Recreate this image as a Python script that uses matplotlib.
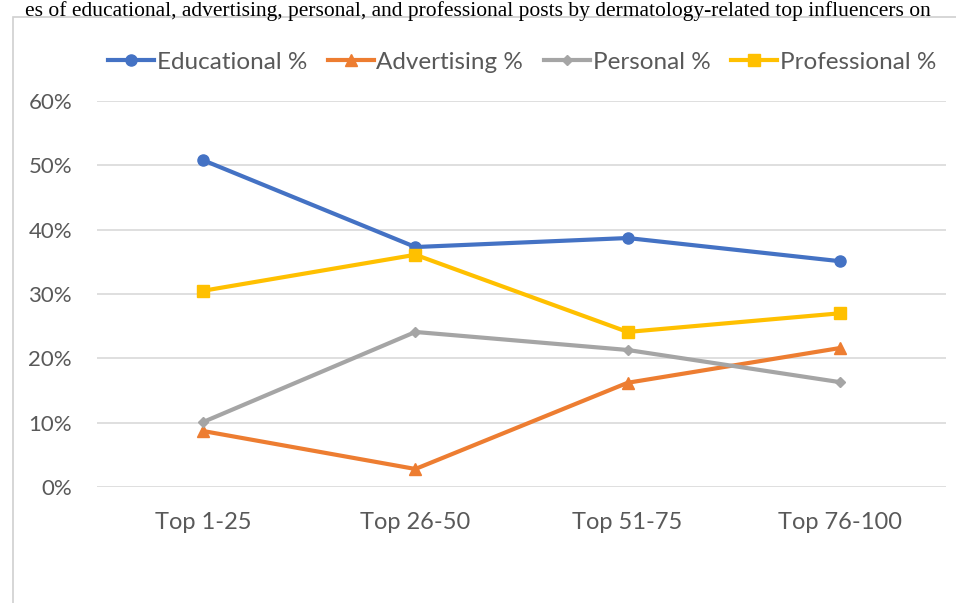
import numpy as np
import matplotlib.pyplot as plt
from matplotlib.patches import Rectangle
from matplotlib.ticker import FuncFormatter

# values (percent)
groups = ["Top 1-25", "Top 26-50", "Top 51-75", "Top 76-100"]
educational = [50.8, 37.3, 38.7, 35.1]
advertising = [8.7, 2.8, 16.2, 21.6]
personal = [10.1, 24.1, 21.3, 16.3]
professional = [30.5, 36.1, 24.1, 27.0]

title = "es of educational, advertising, personal, and professional posts by dermatology-related top influencers on"

W, H = 956, 603
fig = plt.figure(figsize=(W / 100, H / 100), dpi=100)
ax = fig.add_axes([97 / W, 1 - 487 / H, (946 - 97) / W, (487 - 101) / H])

# outer chart frame (cut off at the right and bottom)
fig.patches.append(Rectangle((13 / W, -0.1), 1.2, 1 - 17 / H + 0.1, transform=fig.transFigure,
                             fill=False, edgecolor="#d0d0d0", linewidth=1.2))

fig.text(0.5, 1 - 1 / H, title, family="Liberation Serif", fontsize=15.5, ha="center", va="top", color="black")

x = np.arange(len(groups))
ax.plot(x, educational, color="#4472C4", lw=3, marker="o", ms=8, label="Educational %")
ax.plot(x, advertising, color="#ED7D31", lw=3, marker="^", ms=9, label="Advertising %")
ax.plot(x, personal, color="#A5A5A5", lw=3, marker="D", ms=5.5, label="Personal %")
ax.plot(x, professional, color="#FFC000", lw=3, marker="s", ms=8, label="Professional %")

ax.set_xlim(-0.5, len(groups) - 0.5)
ax.set_ylim(0, 60)
ax.set_yticks(np.arange(0, 61, 10))
ax.yaxis.set_major_formatter(FuncFormatter(lambda v, p: "%d%%" % v))
ax.set_xticks(x)
ax.set_xticklabels(groups)
ax.grid(axis="y", color="#d9d9d9", lw=1.2)
ax.set_axisbelow(True)
for s in ax.spines.values():
    s.set_visible(False)
ax.tick_params(length=0, labelsize=17, labelcolor="#595959", pad=0)
ax.tick_params(axis="y", pad=18, labelsize=16)
ax.tick_params(axis="x", pad=18)
for t in ax.get_xticklabels() + ax.get_yticklabels():
    t.set_family("Lato")

leg = fig.legend(loc="center", bbox_to_anchor=(522 / W, 1 - 62 / H), ncol=4, frameon=False,
                 prop={"family": "Lato", "size": 17.5}, labelcolor="#595959",
                 handlelength=1.9, handletextpad=0.1, columnspacing=0.85)

fig.savefig("out.png", dpi=100)
